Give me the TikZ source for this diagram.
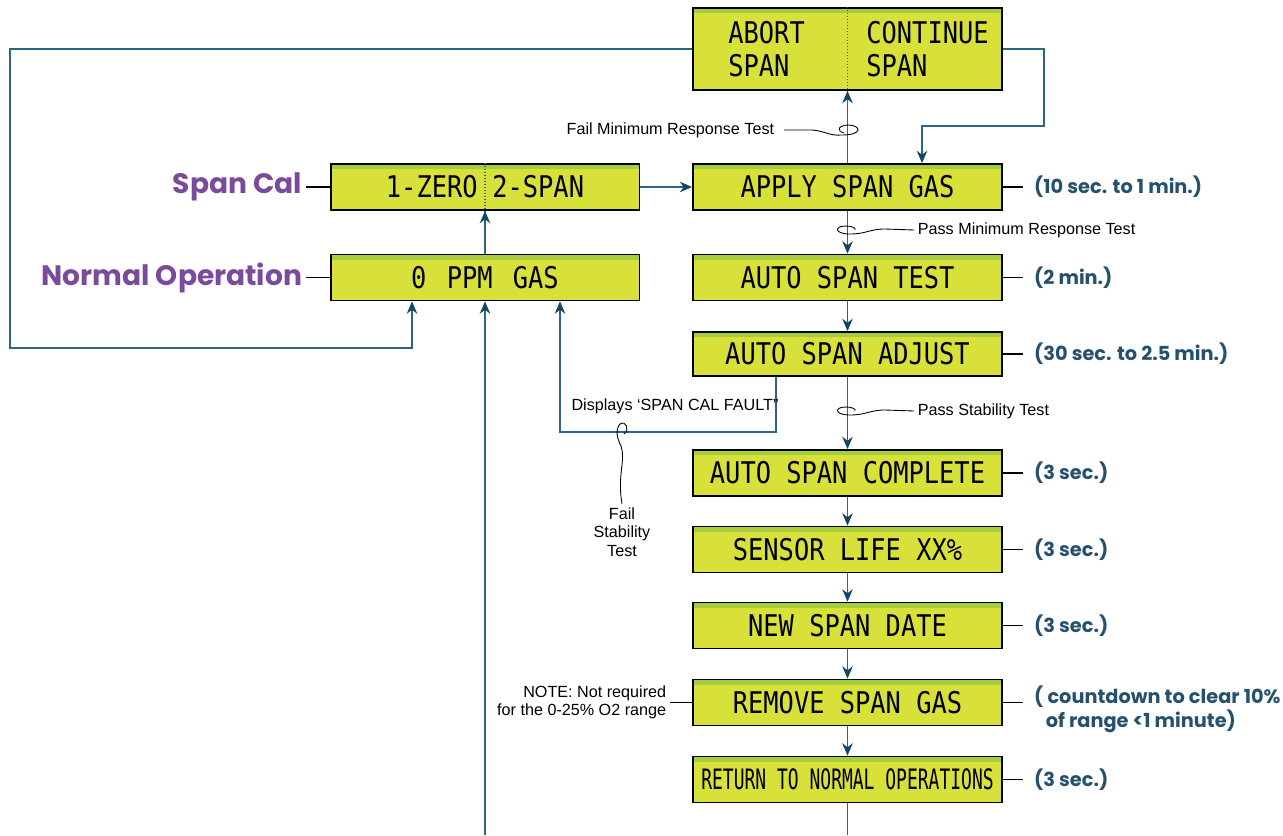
\documentclass[tikz,border=0pt]{standalone}
\usepackage{fontspec}
\setmainfont{Liberation Sans}
\newfontfamily\lcdfont[FakeStretch=0.85]{DejaVu Sans Mono}
\newfontfamily\lcdnarrow[FakeStretch=0.64]{DejaVu Sans Mono}
\newfontfamily\roundfont{Poppins}
\usetikzlibrary{arrows.meta,positioning,calc}
\definecolor{lcdfill}{HTML}{D8E03A}
\definecolor{lcdtop}{HTML}{A8CC3C}
\definecolor{wire}{HTML}{2E6584}
\definecolor{arrowc}{HTML}{0F4767}
\definecolor{modepurple}{HTML}{7A4A9C}
\definecolor{timeblue}{HTML}{25506E}

\begin{document}
\begin{tikzpicture}[
  x=0.02cm, y=-0.02cm,
  lcd/.style={draw=black, line width=1.1pt, fill=lcdfill, inner sep=0pt,
              minimum width=6.18cm, minimum height=0.92cm,
              font=\lcdfont\fontsize{17}{19}\selectfont,
              path picture={\fill[lcdtop] (path picture bounding box.north west)
                rectangle ([yshift=-3pt]path picture bounding box.north east);}},
  lcdtxt/.style={inner sep=0pt, font=\lcdfont\fontsize{17}{19}\selectfont},
  arr/.style={wire, line width=0.7pt, -{Stealth[length=7pt, width=6pt, color=arrowc]}},
  link/.style={wire, line width=0.7pt},
  tick/.style={black, line width=0.8pt},
  annot/.style={black, line width=0.5pt},
  mode/.style={font=\roundfont\bfseries\fontsize{16}{19}\selectfont, text=modepurple, inner sep=2pt},
  timetxt/.style={font=\roundfont\bfseries\fontsize{11}{13.5}\selectfont, text=timeblue,
                  inner xsep=6pt, align=left},
  note/.style={font=\fontsize{9.2}{10.5}\selectfont, inner sep=2pt},
]
\useasboundingbox (0,0) rectangle (1283,835);

% displays
\node[lcd, minimum height=1.64cm] (abort) at (847.5,49) {};
\node[lcdtxt, anchor=west, align=left] (abortl) at (728,49) {ABORT\\SPAN};
\node[lcdtxt, anchor=west, align=left] (abortr) at (866,49) {CONTINUE\\SPAN};
\node[lcd] (zerospan) at (485,187) {};
\node[lcdtxt, anchor=east] (zerol) at (478,187) {1-ZERO};
\node[lcdtxt, anchor=west] (zeror) at (492,187) {2-SPAN};
\node[lcd] (normal) at (485,277.5) {0\ \,PPM\ \,GAS};
\node[lcd] (apply) at (847.5,187) {APPLY SPAN GAS};
\node[lcd] (autotest) at (847.5,277.5) {AUTO SPAN TEST};
\node[lcd, minimum height=0.88cm] (autoadj) at (847.5,354) {AUTO SPAN ADJUST};
\node[lcd] (complete) at (847.5,473) {AUTO SPAN COMPLETE};
\node[lcd] (sensor) at (847.5,549.5) {SENSOR LIFE XX\%};
\node[lcd] (newdate) at (847.5,625.5) {NEW SPAN DATE};
\node[lcd] (remove) at (847.5,702.5) {REMOVE SPAN GAS};
\node[lcd, font=\lcdnarrow\fontsize{16}{18}\selectfont] (return) at (847.5,779.5) {RETURN TO NORMAL OPERATIONS};
\draw[link, densely dotted] (abort.north) -- (abort.south);
\draw[link, densely dotted] (zerospan.north) -- (zerospan.south);

% mode labels
\node[mode, anchor=east] (spancal) at (306,187) {Span Cal};
\node[mode, anchor=east] (normop) at (306,277.5) {Normal Operation};
\draw[tick, line width=1.1pt] (spancal.east) -- (zerospan.west);
\draw[tick] (normop.east) -- (normal.west);

% main sequence
\draw[arr] (apply) -- (abort);
\foreach \a/\b in {apply/autotest, autotest/autoadj, autoadj/complete, complete/sensor,
                   sensor/newdate, newdate/remove, remove/return}
  \draw[arr] (\a) -- (\b);
\coordinate (bottomout) at (847.5,835);
\draw[link] (return.south) -- (bottomout);
\draw[arr] (zerospan) -- (apply);
\draw[arr] (normal) -- (zerospan);
\coordinate (bottomin) at (485,835);
\draw[arr] (bottomin) -- (normal.south);

% continue / abort
\coordinate (contturn) at (1044,126);
\coordinate (contin) at (922,126);
\draw[arr] (abort.east) -| (contturn) -- (contin) -- (contin |- apply.north);
\coordinate (abortcorner) at (10,348);
\coordinate (abortback) at (412,348);
\draw[arr] (abort.west) -| (abortcorner) -- (abortback) -- (abortback |- normal.south);

% span cal fault
\coordinate (faultr) at (776,432);
\coordinate (faultl) at (560,432);
\draw[arr] (autoadj.south -| faultr) -- (faultr) -- (faultl) -- (faultl |- normal.south);
\node[note] (fault) at (675,406) {Displays `SPAN CAL FAULT''};
\node[note, align=center] (failstab) at (622,532) {Fail\\Stability\\Test};
\draw[annot] (failstab.north) .. controls (617,475) and (626,460) .. (621,446)
  .. controls (617,438) and (615,430) .. (620,424) .. controls (626,420) and (630,430) .. (624,434);

% test annotations
\node[note, anchor=east] (failmin) at (778,130) {Fail Minimum Response Test};
\draw[annot] (failmin.east) ++(6,0) -- (812,130) .. controls (826,131) and (828,136) .. (842,135)
  .. controls (862,135) and (862,126) .. (849,125) .. controls (838,125) and (836,131) .. (844,133);
\node[note, anchor=west] (passmin) at (914,230) {Pass Minimum Response Test};
\draw[annot] (passmin.west) -- (885,229) .. controls (870,229) and (866,234) .. (850,234)
  .. controls (834,234) and (834,226) .. (846,226) .. controls (852,226) and (856,228) .. (855,230);
\node[note, anchor=west] (passstab) at (914,411) {Pass Stability Test};
\draw[annot] (passstab.west) -- (885,410) .. controls (870,410) and (866,415) .. (850,415)
  .. controls (834,415) and (834,407) .. (846,407) .. controls (852,407) and (856,409) .. (855,411);

% note
\node[note, align=right, anchor=east] (remnote) at (670,702.5) {NOTE: Not required\\for the 0-25\% O2 range};
\draw[tick, line width=0.5pt] (remnote.east) -- (remove.west);

% timings
\foreach \n/\t in {apply/{(10 sec. to 1 min.)}, autotest/{(2 min.)}, autoadj/{(30 sec. to 2.5 min.)},
                   complete/{(3 sec.)}, sensor/{(3 sec.)}, newdate/{(3 sec.)}, return/{(3 sec.)}}
  \draw[tick] (\n.east) -- ++(20,0) node[timetxt, anchor=west] (\n-time) {\t};
\draw[tick] (remove.east) -- ++(20,0) node[timetxt, anchor=west, yshift=-4pt] (remove-time)
  {( countdown to clear 10\%\\\hspace{0.6em}of range <1 minute)};
\end{tikzpicture}
\end{document}
